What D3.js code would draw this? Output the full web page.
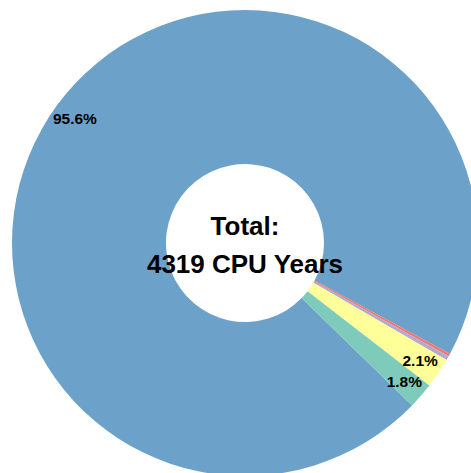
<!DOCTYPE html>
<html>
<head>
<meta charset="utf-8">
<script src="https://cdn.jsdelivr.net/npm/d3@7"></script>
<style>
  html, body { margin: 0; padding: 0; background: #fff; }
  svg { display: block; }
</style>
</head>
<body>
<svg id="chart" width="471" height="473"></svg>
<script>
const categories = ["Blue", "Red", "Purple", "Yellow", "Teal"];
const cpuYears = [4129, 9, 12, 91, 78];
const colors = ["#6ca1c9", "#f7756e", "#b1a9d0", "#ffff99", "#7fcbbb"];
const centerLines = ["Total:", "4319 CPU Years"];

const width = 471, height = 473;
const cx = 245, cy = 243;
const outerR = 233, innerR = 79, labelR = 211;
const startDeg = 134.2;

const data = categories.map((c, i) => ({ name: c, value: cpuYears[i], color: colors[i] }));
const total = d3.sum(cpuYears);

const svg = d3.select("#chart");
const g = svg.append("g").attr("transform", `translate(${cx},${cy})`);

const pie = d3.pie()
  .value(d => d.value)
  .sort(null)
  .startAngle(startDeg * Math.PI / 180)
  .endAngle(startDeg * Math.PI / 180 + 2 * Math.PI);

const arc = d3.arc().innerRadius(innerR).outerRadius(outerR);
const labelArc = d3.arc().innerRadius(labelR).outerRadius(labelR);

const arcs = pie(data);

g.selectAll("path.slice")
  .data(arcs)
  .join("path")
  .attr("class", "slice")
  .attr("d", arc)
  .attr("fill", d => d.data.color);

const fmt = d3.format(".1%");
g.selectAll("text.pct")
  .data(arcs.filter(d => d.data.value / total >= 0.01))
  .join("text")
  .attr("class", "pct")
  .attr("transform", d => `translate(${labelArc.centroid(d)})`)
  .attr("text-anchor", "middle")
  .attr("dy", "0.35em")
  .attr("font-family", "Liberation Sans, Arial, sans-serif")
  .attr("font-weight", "bold")
  .attr("font-size", 15.5)
  .attr("fill", "#000")
  .text(d => fmt(d.data.value / total));

g.selectAll("text.center")
  .data(centerLines)
  .join("text")
  .attr("class", "center")
  .attr("x", 0)
  .attr("y", (d, i) => i === 0 ? -8 : 29.7)
  .attr("text-anchor", "middle")
  .attr("font-family", "Liberation Sans, Arial, sans-serif")
  .attr("font-weight", "bold")
  .attr("font-size", 26)
  .attr("fill", "#000")
  .text(d => d);
</script>
</body>
</html>
